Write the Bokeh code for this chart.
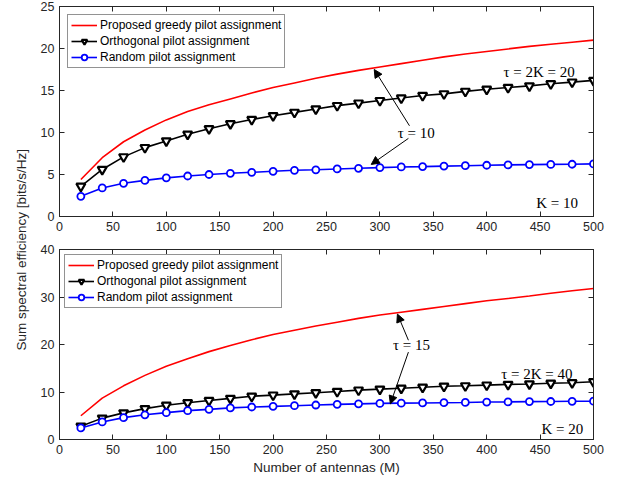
from bokeh.plotting import figure
from bokeh.models import (FixedTicker, LinearAxis, Label, Arrow, NormalHead, Div, Range1d)
from bokeh.layouts import row, column
from bokeh.embed import file_html
from bokeh.resources import INLINE

# ---------------- data ----------------
M = [20, 40, 60, 80, 100, 120, 140, 160, 180, 200, 220, 240, 260,
     280, 300, 320, 340, 360, 380, 400, 420, 440, 460, 480, 500]

# K = 10
greedy_k10 = [4.4, 7.0, 8.9, 10.3, 11.5, 12.5, 13.3, 14.0, 14.7, 15.35, 15.9, 16.45, 16.95,
              17.4, 17.8, 18.2, 18.6, 19.0, 19.35, 19.65, 19.95, 20.25, 20.5, 20.75, 21.0]
orth_k10 = [3.6, 5.6, 7.1, 8.2, 9.0, 9.8, 10.45, 11.05, 11.55, 12.0, 12.4, 12.8, 13.2,
            13.5, 13.8, 14.1, 14.4, 14.6, 14.9, 15.15, 15.35, 15.55, 15.8, 16.0, 16.2]
rand_k10 = [2.4, 3.4, 3.95, 4.3, 4.6, 4.82, 5.0, 5.14, 5.26, 5.38, 5.5, 5.56, 5.66,
            5.74, 5.82, 5.9, 5.94, 6.0, 6.05, 6.1, 6.14, 6.18, 6.2, 6.22, 6.26]

# K = 20
greedy_k20 = [5.0, 8.7, 11.3, 13.5, 15.4, 17.0, 18.5, 19.8, 21.0, 22.1, 23.0, 23.9, 24.7,
              25.5, 26.2, 26.8, 27.4, 28.0, 28.6, 29.2, 29.7, 30.2, 30.8, 31.3, 31.8]
orth_k20 = [2.8, 4.5, 5.6, 6.5, 7.2, 7.75, 8.2, 8.65, 9.1, 9.35, 9.6, 9.85, 10.1,
            10.4, 10.6, 10.8, 11.0, 11.2, 11.3, 11.45, 11.6, 11.7, 11.85, 11.95, 12.15]
rand_k20 = [2.44, 3.7, 4.6, 5.2, 5.65, 6.07, 6.35, 6.65, 6.84, 6.98, 7.12, 7.26, 7.4,
            7.5, 7.6, 7.65, 7.7, 7.75, 7.8, 7.88, 7.92, 7.98, 8.0, 8.04, 8.06]

x_ticks = [0, 50, 100, 150, 200, 250, 300, 350, 400, 450, 500]
y_ticks_top = [0, 5, 10, 15, 20, 25]
y_ticks_bot = [0, 10, 20, 30, 40]

labels = ["Proposed greedy pilot assignment",
          "Orthogonal pilot assignment",
          "Random pilot assignment"]

AX = "#262626"
FONT = "Liberation Sans"
SERIF = "Liberation Serif"


def box_axis(ticks):
    return LinearAxis(ticker=FixedTicker(ticks=ticks), major_tick_in=5, major_tick_out=0,
                      minor_tick_line_color=None, axis_line_color=AX,
                      major_tick_line_color=AX,
                      major_label_overrides={t: "" for t in ticks},
                      major_label_standoff=0)


def style_axes(p, yticks):
    p.below[0].ticker = FixedTicker(ticks=x_ticks)
    p.left[0].ticker = FixedTicker(ticks=yticks)
    for ax in (p.below[0], p.left[0]):
        ax.major_tick_in = 5
        ax.major_tick_out = 0
        ax.minor_tick_line_color = None
        ax.axis_line_color = AX
        ax.major_tick_line_color = AX
        ax.major_label_text_color = AX
        ax.major_label_text_font = FONT
        ax.major_label_text_font_size = "12.5px"
        ax.major_label_standoff = 5
    p.xgrid.visible = False
    p.ygrid.visible = False
    p.outline_line_color = AX
    p.add_layout(box_axis(yticks), "right")
    p.add_layout(box_axis(x_ticks), "above")


def draw_series(p, greedy, orth, rand):
    p.line(M, greedy, line_color="#ff0000", line_width=1.6, legend_label=labels[0])
    p.line(M, orth, line_color="black", line_width=1.6, legend_label=labels[1])
    p.scatter(M, orth, marker="inverted_triangle", size=9, line_color="black",
              fill_color="white", line_width=2.2, legend_label=labels[1])
    p.line(M, rand, line_color="#0000ff", line_width=1.6, legend_label=labels[2])
    p.scatter(M, rand, marker="circle", size=7, line_color="#0000ff",
              fill_color="white", line_width=1.8, legend_label=labels[2])


def style_legend(p, margin):
    lg = p.legend[0]
    lg.location = "top_left"
    lg.margin = margin
    lg.padding = 3
    lg.spacing = 2
    lg.label_height = 14
    lg.glyph_height = 14
    lg.glyph_width = 26
    lg.label_standoff = 3
    lg.label_text_font = FONT
    lg.label_text_font_size = "12px"
    lg.label_text_color = "black"
    lg.border_line_color = AX
    lg.border_line_width = 1
    lg.background_fill_alpha = 1


def arrow(p, xs, ys, xe, ye):
    p.add_layout(Arrow(end=NormalHead(size=8, fill_color="black", line_color="black"),
                       x_start=xs, y_start=ys, x_end=xe, y_end=ye,
                       line_color="black", line_width=1))


def label(p, x, y, text):
    p.add_layout(Label(x=x, y=y, text=text, text_align="center", text_baseline="middle",
                       text_font=SERIF, text_font_size="15px", text_color="black"))


# ---------------- top panel ----------------
p1 = figure(width=581, height=242, output_backend="svg", toolbar_location=None,
            x_range=Range1d(0, 500), y_range=Range1d(0, 25),
            min_border_left=27, min_border_right=20, min_border_top=6, min_border_bottom=26)
draw_series(p1, greedy_k10, orth_k10, rand_k10)
style_axes(p1, y_ticks_top)
style_legend(p1, 8)
label(p1, 449, 17.2, "τ = 2K = 20")
label(p1, 334, 10.0, "τ = 10")
label(p1, 466, 1.55, "K = 10")
arrow(p1, 327.7, 10.8, 294.7, 17.5)
arrow(p1, 326.7, 9.3, 291.9, 6.2)

# ---------------- bottom panel ----------------
p2 = figure(width=581, height=237, output_backend="svg", toolbar_location=None,
            x_range=Range1d(0, 500), y_range=Range1d(0, 40),
            min_border_left=27, min_border_right=20, min_border_top=7, min_border_bottom=40)
draw_series(p2, greedy_k20, orth_k20, rand_k20)
style_axes(p2, y_ticks_bot)
style_legend(p2, 5)
xa = p2.below[0]
xa.axis_label = "Number of antennas (M)"
xa.axis_label_text_font = FONT
xa.axis_label_text_font_size = "13.5px"
xa.axis_label_text_font_style = "normal"
xa.axis_label_text_color = AX
xa.axis_label_standoff = 3
label(p2, 447, 13.8, "τ = 2K = 40")
label(p2, 329.6, 19.9, "τ = 15")
label(p2, 470.8, 2.3, "K = 20")
arrow(p2, 326.7, 20.9, 316.4, 26.4)
arrow(p2, 326.7, 18.4, 309.8, 7.5)

ylab = Div(text=('<div style="height: 454px; width: 22px; display: flex; '
                 'box-sizing: border-box; padding-top: 36px; '
                 'align-items: center; justify-content: flex-end;">'
                 '<div style="writing-mode: vertical-rl; '
                 'transform: translateX(4px) rotate(180deg); '
                 'white-space: nowrap; font-family: \'Liberation Sans\'; font-size: 13.5px; '
                 'color: #262626;">Sum spectral efficiency [bits/s/Hz]</div></div>'),
           width=22, height=470)

layout = row(ylab, column(p1, p2))

open("out.html", "w").write(file_html(layout, INLINE))
